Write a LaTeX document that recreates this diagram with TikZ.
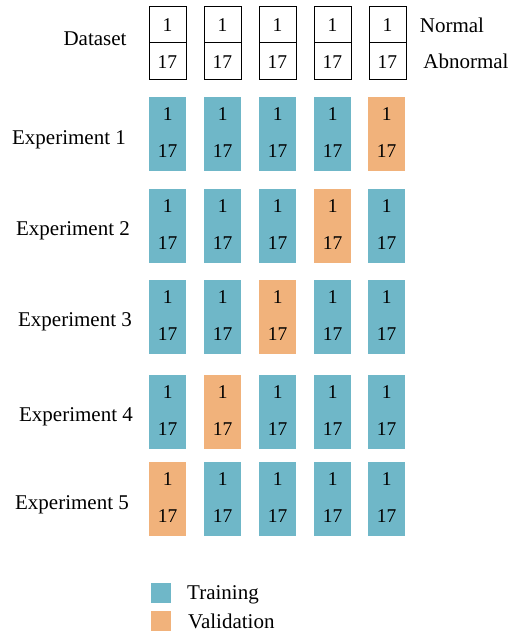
\documentclass[tikz,border=0pt]{standalone}
\usepackage{fontspec}
\setmainfont{Liberation Serif}
\definecolor{trainc}{HTML}{6FB7C8}
\definecolor{valc}{HTML}{F1B27B}
\begin{document}
\begin{tikzpicture}[x=1pt,y=-1pt,
  lbl/.style={font=\fontsize{21}{24}\selectfont, inner sep=0pt, text depth=0pt},
  num/.style={font=\fontsize{19.5}{22}\selectfont, inner sep=0pt},
  cell/.style={draw=black, line width=0.9pt, minimum width=37pt, minimum height=36.5pt, inner sep=0pt, anchor=north west},
  fold/.style={fill=#1, minimum width=37pt, minimum height=73.5pt, inner sep=0pt, anchor=north west},
  swatch/.style={fill=#1, minimum width=20pt, minimum height=20pt, inner sep=0pt, anchor=north west}]
\useasboundingbox (0,0) rectangle (508,634);
% Dataset row
\node[lbl] (ds) at (95,39) {Dataset};
\foreach \i/\x in {1/148.5,2/203.5,3/258.5,4/313.5,5/368.5}{
  \node[cell] (dn\i) at (\x,6) {};
  \node[cell] (da\i) at (\x,42.5) {};
  \node[num] at ([yshift=-0.5pt]dn\i.center) {1};
  \node[num] at ([yshift=-0.5pt]da\i.center) {17};
}
\node[lbl] (nrm) at (452,25) {Normal};
\node[lbl] (abn) at (466,61) {Abnormal};
% Experiments
\foreach \r/\y/\lx/\ly/\v in {1/97/69/138/5, 2/189/73/229/4, 3/280/75/320/3, 4/375/76/415/2, 5/462/72/503/1}{
  \node[lbl] (ex\r) at (\lx,\ly) {Experiment \r};
  \foreach \i/\x in {1/149,2/204,3/259,4/314,5/368}{
    \ifnum\i=\v
      \node[fold=valc] (f\r\i) at (\x,\y) {};
    \else
      \node[fold=trainc] (f\r\i) at (\x,\y) {};
    \fi
    \node[num] at ([yshift=-17.5pt]f\r\i.north) {1};
    \node[num] at ([yshift=-54.5pt]f\r\i.north) {17};
  }
}
% Legend
\node[swatch=trainc] (lt) at (151,583) {};
\node[swatch=valc] (lv) at (151,611) {};
\node[lbl, anchor=west] (ltt) at (187,593) {Training};
\node[lbl, anchor=west] (lvt) at (188,621) {Validation};
\end{tikzpicture}
\end{document}
